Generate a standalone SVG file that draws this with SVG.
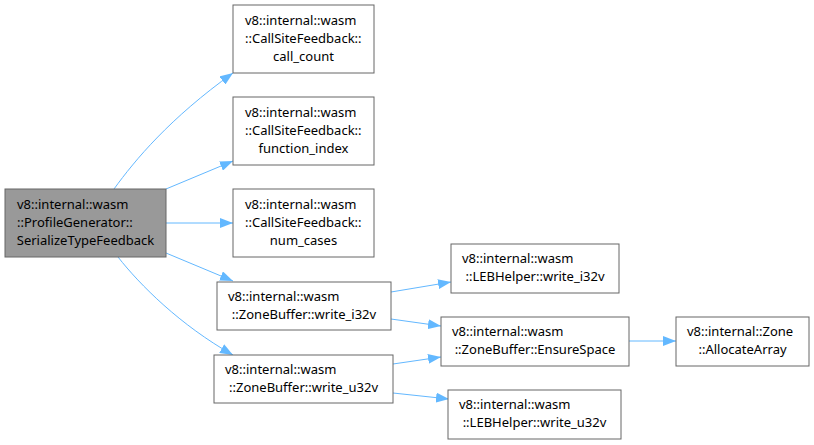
<svg xmlns="http://www.w3.org/2000/svg" width="814" height="445" viewBox="0 0 814 445">
<defs>
<marker id="ah" viewBox="0 0 13 10" refX="13" refY="5" markerWidth="13" markerHeight="10" markerUnits="userSpaceOnUse" orient="auto">
<path d="M0,0 L13,5 L0,10 Z" fill="#63b8ff"/>
</marker>
<style>
.n rect{fill:#fff;stroke:#666;stroke-width:1}
.n.main rect{fill:#999}
.n text{font-family:"Noto Sans","Open Sans",sans-serif;font-size:13px;fill:#000}
.n text.c{text-anchor:middle}
.e path{fill:none;stroke:#63b8ff;stroke-width:1;marker-end:url(#ah)}
</style>
</defs>
<rect width="814" height="445" fill="#fff"/>
<g class="e" id="edges">
<path d="M114,189 C135,160 170,118 233,73"/>
<path d="M166,189 L233,161"/>
<path d="M166,223 L233,223"/>
<path d="M166,253 L233,281"/>
<path d="M118,257 C140,285 180,325 233,355"/>
<path d="M391,292 L451,282"/>
<path d="M391,319 L441,326"/>
<path d="M393,364 L441,357"/>
<path d="M393,393 L449,399"/>
<path d="M629,341 L676,341"/>
</g>
<g class="n main" id="n_serialize"><rect x="5" y="189" width="161" height="68"/><text x="17" y="209">v8::internal::wasm</text><text x="17" y="227">::ProfileGenerator::</text><text class="c" x="85.5" y="245">SerializeTypeFeedback</text></g>
<g class="n" id="n_call_count"><rect x="233" y="5" width="141" height="68"/><text x="245" y="25">v8::internal::wasm</text><text x="245" y="43">::CallSiteFeedback::</text><text class="c" x="303.5" y="61">call_count</text></g>
<g class="n" id="n_function_index"><rect x="233" y="97" width="141" height="68"/><text x="245" y="117">v8::internal::wasm</text><text x="245" y="135">::CallSiteFeedback::</text><text class="c" x="303.5" y="153">function_index</text></g>
<g class="n" id="n_num_cases"><rect x="233" y="189" width="141" height="68"/><text x="245" y="209">v8::internal::wasm</text><text x="245" y="227">::CallSiteFeedback::</text><text class="c" x="303.5" y="245">num_cases</text></g>
<g class="n" id="n_zb_write_i32v"><rect x="217" y="282" width="174" height="48"/><text x="228" y="301">v8::internal::wasm</text><text class="c" x="304" y="319">::ZoneBuffer::write_i32v</text></g>
<g class="n" id="n_zb_write_u32v"><rect x="214" y="355" width="179" height="48"/><text x="225" y="374">v8::internal::wasm</text><text class="c" x="303.5" y="392">::ZoneBuffer::write_u32v</text></g>
<g class="n" id="n_leb_write_i32v"><rect x="451" y="244" width="168" height="49"/><text x="462" y="263">v8::internal::wasm</text><text class="c" x="535" y="281">::LEBHelper::write_i32v</text></g>
<g class="n" id="n_ensure_space"><rect x="441" y="317" width="188" height="49"/><text x="452" y="336">v8::internal::wasm</text><text class="c" x="535" y="354">::ZoneBuffer::EnsureSpace</text></g>
<g class="n" id="n_allocate_array"><rect x="676" y="317" width="133" height="49"/><text x="687" y="336">v8::internal::Zone</text><text class="c" x="742.5" y="354">::AllocateArray</text></g>
<g class="n" id="n_leb_write_u32v"><rect x="448" y="390" width="173" height="49"/><text x="459" y="409">v8::internal::wasm</text><text class="c" x="534.5" y="427">::LEBHelper::write_u32v</text></g>
</svg>
